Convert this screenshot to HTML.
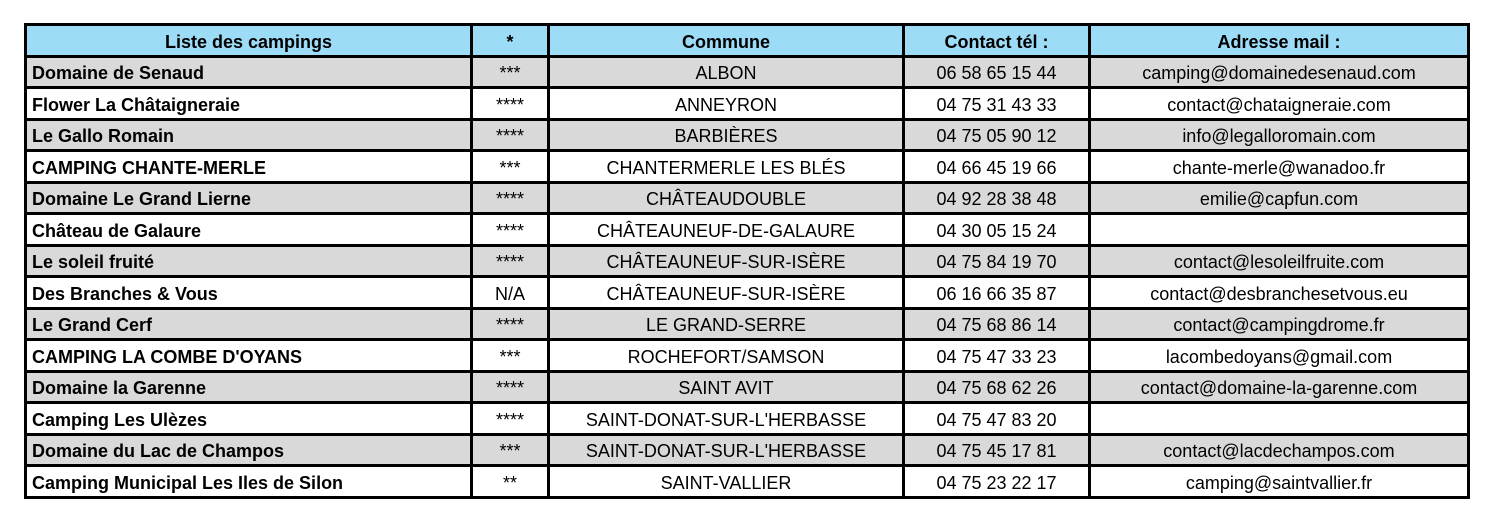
<!DOCTYPE html>
<html><head><meta charset="utf-8"><style>
body{margin:0;width:1495px;height:523px;background:#fff;position:relative;overflow:hidden;font-family:"Liberation Sans",Arial,sans-serif;}
.r{position:absolute;left:25px;width:1443px;height:31.5px;}
.c{position:absolute;height:31.5px;line-height:35px;font-size:18px;color:#000;white-space:nowrap;text-align:center;overflow:hidden;}
.hl{position:absolute;left:24px;width:1445px;height:3px;background:#000;}
.vl{position:absolute;top:23px;height:476px;width:3px;background:#000;}
</style></head><body>
<div id="t"></div>
<script>
var rows=[
["Liste des campings","*","Commune","Contact tél :","Adresse mail :"],
["Domaine de Senaud","***","ALBON","06 58 65 15 44","camping@domainedesenaud.com"],
["Flower La Châtaigneraie","****","ANNEYRON","04 75 31 43 33","contact@chataigneraie.com"],
["Le Gallo Romain","****","BARBIÈRES","04 75 05 90 12","info@legalloromain.com"],
["CAMPING CHANTE-MERLE","***","CHANTERMERLE LES BLÉS","04 66 45 19 66","chante-merle@wanadoo.fr"],
["Domaine Le Grand Lierne","****","CHÂTEAUDOUBLE","04 92 28 38 48","emilie@capfun.com"],
["Château de Galaure","****","CHÂTEAUNEUF-DE-GALAURE","04 30 05 15 24",""],
["Le soleil fruité","****","CHÂTEAUNEUF-SUR-ISÈRE","04 75 84 19 70","contact@lesoleilfruite.com"],
["Des Branches & Vous","N/A","CHÂTEAUNEUF-SUR-ISÈRE","06 16 66 35 87","contact@desbranchesetvous.eu"],
["Le Grand Cerf","****","LE GRAND-SERRE","04 75 68 86 14","contact@campingdrome.fr"],
["CAMPING LA COMBE D'OYANS","***","ROCHEFORT/SAMSON","04 75 47 33 23","lacombedoyans@gmail.com"],
["Domaine la Garenne","****","SAINT AVIT","04 75 68 62 26","contact@domaine-la-garenne.com"],
["Camping Les Ulèzes","****","SAINT-DONAT-SUR-L'HERBASSE","04 75 47 83 20",""],
["Domaine du Lac de Champos","***","SAINT-DONAT-SUR-L'HERBASSE","04 75 45 17 81","contact@lacdechampos.com"],
["Camping Municipal Les Iles de Silon","**","SAINT-VALLIER","04 75 23 22 17","camping@saintvallier.fr"]];
var xs=[25,471,548,903,1089,1468],h="";
for(var i=0;i<rows.length;i++){
 var y=24.5+i*31.53;
 var bg=i==0?"#9ddcf6":(i%2==1?"#d9d9d9":"#fff");
 h+='<div class="r" style="top:'+y+'px;background:'+bg+'"></div>';
 for(var j=0;j<5;j++){
  var st='left:'+(xs[j]+2)+'px;width:'+(xs[j+1]-xs[j]-3)+'px;top:'+y+'px;';
  if(i==0) st+='font-weight:bold;';
  if(j==0&&i>0) st+='text-align:left;padding-left:5px;font-weight:bold;';
  h+='<div class="c" style="'+st+'">'+rows[i][j].replace(/&(?!amp)/,'&amp;')+'</div>';
 }
}
for(var i=0;i<=15;i++){h+='<div class="hl" style="top:'+(23+i*31.53)+'px"></div>';}
for(var j=0;j<6;j++){h+='<div class="vl" style="left:'+(xs[j]-1.5)+'px"></div>';}
document.getElementById("t").innerHTML=h;
</script>
</body></html>
